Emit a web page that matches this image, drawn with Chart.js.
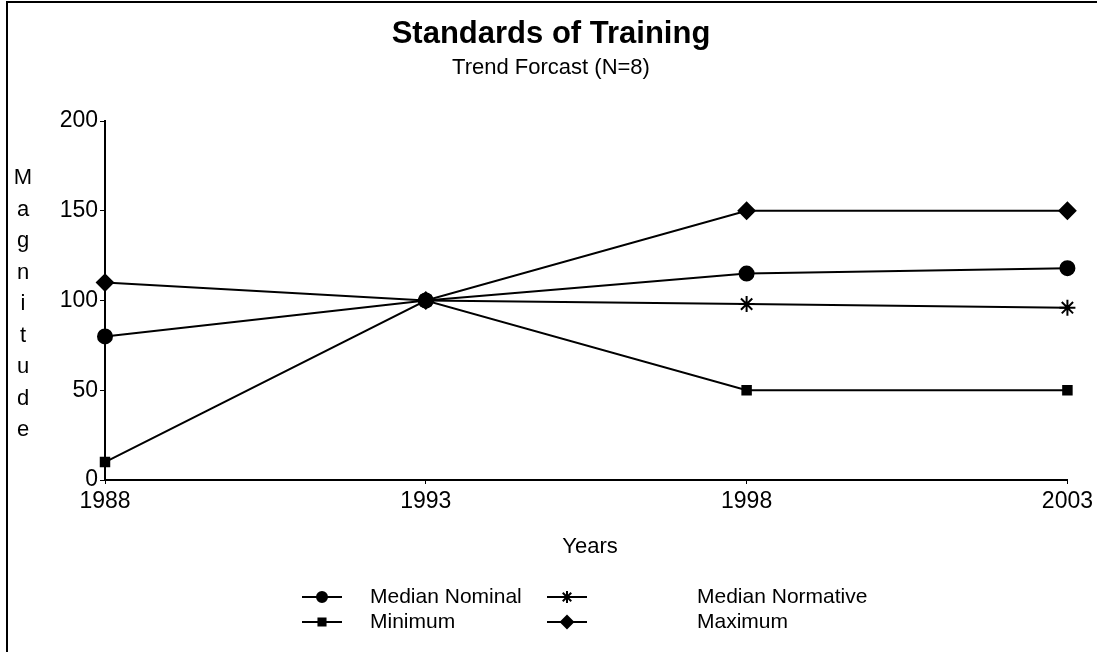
<!DOCTYPE html>
<html>
<head>
<meta charset="utf-8">
<script src="https://cdn.jsdelivr.net/npm/chart.js@4/dist/chart.umd.min.js"></script>
<style>
  body { margin: 0; background: #fff; }
</style>
</head>
<body>
<canvas id="grafico" width="1097" height="652"></canvas>
<script>
// dados
const years = ["1988", "1993", "1998", "2003"];
const medianNominal = [80, 100, 115, 118];
const medianNormative = [null, 100, 98, 96];
const minimum = [10, 100, 50, 50];
const maximum = [110, 100, 150, 150];
const yTicks = [0, 50, 100, 150, 200];

const NARROW = '"Liberation Sans Narrow", "Arial Narrow", "Liberation Sans", Arial, sans-serif';
const WIDE = '"Liberation Sans", Arial, sans-serif';

const legendItems = [
  { label: "Median Nominal", style: "circle", r: 5, x: 322, tx: 370, y: 597 },
  { label: "Median Normative", style: "star", r: 6, x: 567, tx: 697, y: 597 },
  { label: "Minimum", style: "rect", r: 5, x: 322, tx: 370, y: 622 },
  { label: "Maximum", style: "rectRot", r: 6, x: 567, tx: 697, y: 622 },
];

// textos, moldura e legenda desenhados a mao
const extras = {
  id: "extras",
  afterDraw(chart) {
    const ctx = chart.ctx;
    ctx.save();
    ctx.fillStyle = "#000";
    ctx.strokeStyle = "#000";

    // moldura
    ctx.lineWidth = 2;
    ctx.beginPath();
    ctx.moveTo(7, 652);
    ctx.lineTo(7, 2);
    ctx.lineTo(1097, 2);
    ctx.stroke();

    ctx.textAlign = "center";
    ctx.textBaseline = "middle";
    ctx.font = "bold 31px " + WIDE;
    ctx.fillText("Standards of Training", 551, 34);
    ctx.font = "22px " + NARROW;
    ctx.fillText("Trend Forcast (N=8)", 551, 68);

    ctx.font = "22px " + NARROW;
    ctx.fillText("Years", 590, 547);

    let letras = "Magnitude".split("");
    letras.forEach((l, i) => {
      ctx.fillText(l, 23, 178 + i * 31.5);
    });

    // legenda
    ctx.textAlign = "left";
    ctx.font = "21px " + NARROW;
    legendItems.forEach((it) => {
      ctx.lineWidth = 2;
      ctx.beginPath();
      ctx.moveTo(it.x - 20, it.y);
      ctx.lineTo(it.x + 20, it.y);
      ctx.stroke();
      Chart.helpers.drawPoint(ctx, { pointStyle: it.style, radius: it.r, rotation: 0, borderWidth: 2 }, it.x, it.y);
      ctx.fillText(it.label, it.tx, it.y);
    });
    ctx.restore();
  },
};

function serie(label, data, style, radius) {
  return {
    label: label,
    data: data,
    borderColor: "#000",
    backgroundColor: "#000",
    borderWidth: 2,
    pointStyle: style,
    pointRadius: radius,
    pointBorderWidth: 2,
    tension: 0,
  };
}

new Chart(document.getElementById("grafico"), {
  type: "line",
  data: {
    labels: years,
    datasets: [
      serie("Median Normative", medianNormative, "star", 8),
      serie("Median Nominal", medianNominal, "circle", 7),
      serie("Maximum", maximum, "rectRot", 8),
      serie("Minimum", minimum, "rect", 6),
    ],
  },
  options: {
    responsive: false,
    animation: false,
    layout: { padding: { top: 121, left: 0, right: 26, bottom: 0 } },
    plugins: {
      legend: { display: false },
      title: { display: false },
      tooltip: { enabled: false },
    },
    scales: {
      x: {
        offset: false,
        grid: { drawOnChartArea: false, tickLength: 4, color: "#000" },
        border: { display: true, color: "#000", width: 2 },
        ticks: { color: "#000", font: { family: NARROW, size: 23 }, padding: 4, maxRotation: 0 },
        afterFit: (s) => { s.height = 172; },
      },
      y: {
        min: 0,
        max: 200,
        afterBuildTicks: (s) => { s.ticks = yTicks.map((v) => ({ value: v })); },
        grid: { drawOnChartArea: false, tickLength: 5, color: "#000" },
        border: { display: true, color: "#000", width: 2 },
        ticks: { color: "#000", font: { family: NARROW, size: 23 }, padding: 2 },
        afterFit: (s) => { s.width = 105; },
      },
    },
  },
  plugins: [extras],
});
</script>
</body>
</html>
